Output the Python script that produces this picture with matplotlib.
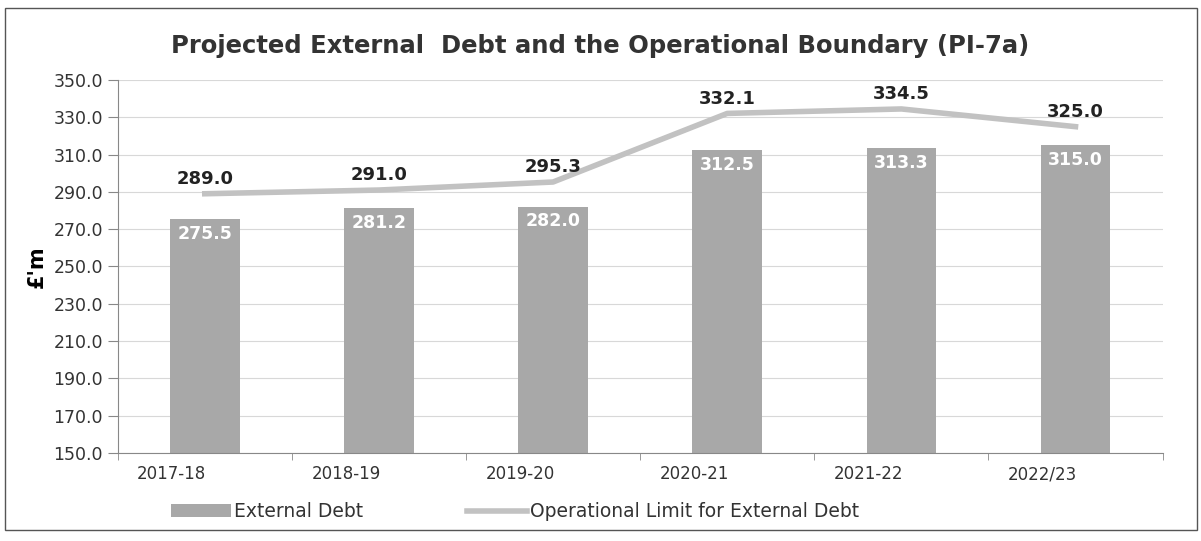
import matplotlib
matplotlib.use("Agg")
import matplotlib.pyplot as plt
import matplotlib.transforms as mtransforms
from matplotlib.patches import Rectangle
import numpy as np

years = ["2017-18", "2018-19", "2019-20", "2020-21", "2021-22", "2022/23"]
external_debt = [275.5, 281.2, 282.0, 312.5, 313.3, 315.0]
operational_limit = [289.0, 291.0, 295.3, 332.1, 334.5, 325.0]

plt.rcParams['font.family'] = ['DejaVu Sans']

fig = plt.figure(figsize=(12.01, 5.41), dpi=100)
ax = fig.add_axes([0.098, 0.163, 0.87, 0.689])

# outer border of the chart
fig.patches.append(Rectangle((5/1201, 11/541), 1192/1201, 522/541, transform=fig.transFigure,
                             fill=False, edgecolor="#555555", linewidth=1.0))

x = np.arange(len(years))
bars = ax.bar(x, external_debt, width=0.4, color="#a8a8a8", zorder=2, label="External Debt")
line, = ax.plot(x, operational_limit, color="#c2c2c2", linewidth=4, zorder=3,
                label="Operational Limit for External Debt")

for xi, v in zip(x, external_debt):
    ax.text(xi, v - 3, "%.1f" % v, ha="center", va="top", color="white", fontsize=12.5,
            fontweight="bold", zorder=4)
for xi, v in zip(x, operational_limit):
    ax.text(xi, v + 3, "%.1f" % v, ha="center", va="bottom", color="#222222", fontsize=13,
            fontweight="bold", zorder=4)

ax.set_ylim(150, 350)
ax.set_xlim(-0.5, len(years) - 0.5)
ax.set_yticks(np.arange(150, 351, 20))
ax.set_yticklabels(["%.1f" % t for t in np.arange(150, 351, 20)])
ax.set_xticks(x)
ax.set_xticklabels(years)
ax.set_xticks(np.arange(-0.5, len(years), 1), minor=True)
ax.tick_params(axis="x", which="major", length=0, pad=9, labelsize=12, colors="#333333")
ax.tick_params(axis="x", which="minor", length=5, color="#888888")
ax.tick_params(axis="y", length=7, color="#888888", labelsize=12.5, colors="#333333")
ax.grid(axis="y", color="#d8d8d8", linewidth=0.8, zorder=0)
for s in ["top", "right"]:
    ax.spines[s].set_visible(False)
ax.spines["left"].set_color("#888888")
ax.spines["bottom"].set_color("#888888")

# category labels sit a little left of the bars in the original
shift = mtransforms.ScaledTranslation(-33/100, 0, fig.dpi_scale_trans)
for lab in ax.get_xticklabels():
    lab.set_transform(lab.get_transform() + shift)

ax.set_ylabel("£'m", fontsize=15, fontweight="bold")
ax.yaxis.set_label_coords(-0.068, 0.5)
fig.text(0.5, 0.915, "Projected External  Debt and the Operational Boundary (PI-7a)", ha="center",
         va="center", fontsize=17.5, fontweight="bold", color="#333333")

leg = fig.legend([bars, line], ["External Debt", "Operational Limit for External Debt"],
                 loc="lower left", bbox_to_anchor=(0.128, 0.005), ncol=2, frameon=False,
                 fontsize=13.5, columnspacing=5.5, handlelength=3.2, handletextpad=0.2)
for t in leg.get_texts():
    t.set_color("#333333")

fig.savefig("out.png", dpi=100)
